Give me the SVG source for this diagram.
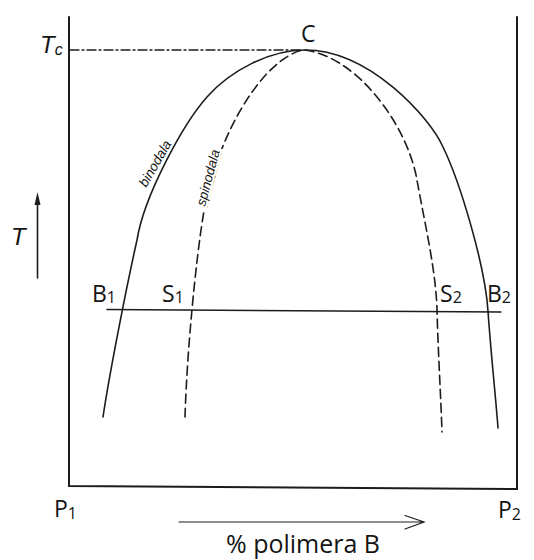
<svg xmlns="http://www.w3.org/2000/svg" width="534" height="560" viewBox="0 0 534 560">
<style>
.ln{fill:none;stroke:#1c1c1c;stroke-width:1.6;stroke-linecap:round}
.dash{stroke-dasharray:9 5}
.lbl{font-family:"Open Sans","Noto Sans",sans-serif;font-size:23px;fill:#141414}
.sub{font-size:16px}
.it{font-family:"Liberation Sans",Arial,sans-serif;font-style:italic;fill:#141414}
</style>
<g id="frame">
<path class="ln" style="stroke-width:2" d="M69,17 L69,486 L517,489 L517,17"/>
</g>
<g id="connectors">
<path id="tc-line" class="ln" style="stroke-dasharray:9 3 2 3;stroke-width:1.3" d="M70,50 L303,50"/>
<path id="binodal" class="ln" d="M103,417 C110,370 128,280 137,240 C144,196 183,124 207,97 C231,70 270,50 305,50 C370,50 430,118 443,147 C460,182 485,265 488,311 C491,355 496,400 498,428"/>
<path id="spinodal-left" class="ln dash" d="M185,417 C187,350 196,260 203,217 C217,131 265,58 303,50"/>
<path id="spinodal-right" class="ln dash" d="M305,50 C360,58 408,128 417,180 C424,220 436,270 437,310 C438,350 441,400 442,432"/>
<path id="tie-line" class="ln" style="stroke-width:1.4" d="M107,309.5 L501,312"/>
<g id="t-arrow">
<path class="ln" d="M37.5,278 L37.5,202"/>
<path d="M37.5,192 L40.5,205 L34.5,205 Z" fill="#1c1c1c"/>
</g>
<g id="x-arrow">
<path class="ln" style="stroke-width:1.2" d="M179,522 L423,522 M405,515.5 L424,522 L405,529"/>
</g>
</g>
<g id="label-binodala">
<text class="it" font-size="13.5" x="156" y="164" text-anchor="middle" dominant-baseline="middle" transform="rotate(-60 156 164)">binodala</text>
</g>
<g id="label-spinodala">
<text class="it" font-size="13.5" x="209" y="178" text-anchor="middle" dominant-baseline="middle" transform="rotate(-75 209 178)" stroke="#fff" stroke-width="5" paint-order="stroke" style="text-decoration:underline">spinodala</text>
</g>
<g id="label-C"><text class="lbl" x="301" y="42">C</text></g>
<g id="label-Tc"><text class="it" font-size="24" x="40" y="53">T<tspan font-size="16" dy="2">c</tspan></text></g>
<g id="label-T"><text class="it" font-size="24" x="11" y="245">T</text></g>
<g id="label-B1"><text class="lbl" x="92" y="302">B<tspan class="sub" dy="1">1</tspan></text></g>
<g id="label-S1"><text class="lbl" x="162" y="302">S<tspan class="sub" dy="1">1</tspan></text></g>
<g id="label-S2"><text class="lbl" x="440" y="302">S<tspan class="sub" dy="1">2</tspan></text></g>
<g id="label-B2"><text class="lbl" x="487" y="302">B<tspan class="sub" dy="1">2</tspan></text></g>
<g id="label-P1"><text class="lbl" x="54" y="517">P<tspan class="sub" dy="2">1</tspan></text></g>
<g id="label-P2"><text class="lbl" x="498" y="518">P<tspan class="sub" dy="2">2</tspan></text></g>
<g id="label-axis"><text class="lbl" x="303" y="553" text-anchor="middle" style="font-size:25px">% polimera B</text></g>
</svg>
